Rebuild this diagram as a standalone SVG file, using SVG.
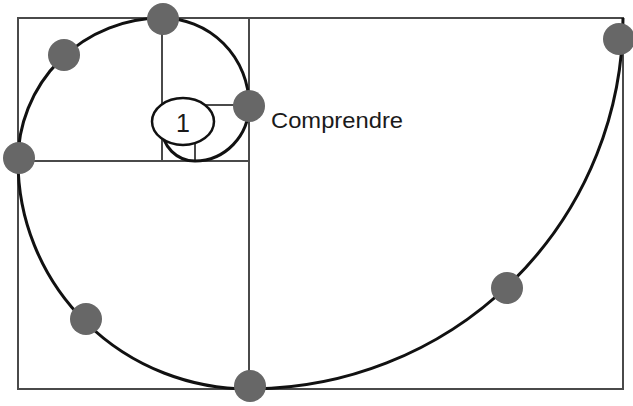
<svg xmlns="http://www.w3.org/2000/svg" width="633" height="406" viewBox="0 0 633 406">
<style>
.frame{fill:none;stroke:#4a4a4a;stroke-width:2}
.spiral{fill:none;stroke:#111;stroke-width:3}
.dot{fill:#676767}
.lbl{font-family:"Liberation Sans",Arial,sans-serif;fill:#1a1a1a}
</style>
<rect width="633" height="406" fill="#fff"/>
<g id="frame">
<rect class="frame" x="18" y="18" width="605" height="371"/>
<line class="frame" x1="249" y1="18" x2="249" y2="389"/>
<line class="frame" x1="18" y1="161" x2="249" y2="161"/>
<line class="frame" x1="162" y1="18" x2="162" y2="161"/>
<line class="frame" x1="162" y1="105" x2="249" y2="105"/>
<line class="frame" x1="195" y1="105" x2="195" y2="161"/>
<line class="frame" x1="162" y1="128" x2="195" y2="128"/>
</g>
<g id="connectors">
<path class="spiral" d="M 623 18 A 374 371 0 0 1 249 389 A 231 228 0 0 1 18 161 A 144 143 0 0 1 162 18 A 87 87 0 0 1 249 105 A 54 56 0 0 1 195 161 A 33 33 0 0 1 162 128"/>
</g>
<g id="n1"><ellipse cx="183" cy="121.5" rx="31" ry="23.5" fill="#fff" stroke="#111" stroke-width="2.5"/><text class="lbl" x="183" y="131.5" font-size="25" text-anchor="middle">1</text></g>
<g id="p1"><circle class="dot" cx="249" cy="106" r="16"/><text class="lbl" x="271" y="128" font-size="22" textLength="132" lengthAdjust="spacingAndGlyphs">Comprendre</text></g>
<g id="p2"><circle class="dot" cx="163" cy="19" r="16"/></g>
<g id="p3"><circle class="dot" cx="64" cy="55" r="16"/></g>
<g id="p4"><circle class="dot" cx="19" cy="158" r="16"/></g>
<g id="p5"><circle class="dot" cx="86" cy="319" r="16"/></g>
<g id="p6"><circle class="dot" cx="250" cy="386" r="16"/></g>
<g id="p7"><circle class="dot" cx="507" cy="288" r="16"/></g>
<g id="p8"><circle class="dot" cx="619" cy="39" r="16"/></g>
</svg>
